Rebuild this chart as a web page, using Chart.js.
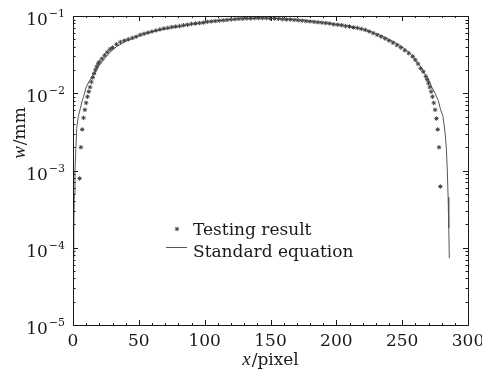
<!DOCTYPE html>
<html lang="en">
<head>
    <meta charset="UTF-8">
    <title>w vs x</title>
    <script src="https://cdn.jsdelivr.net/npm/chart.js"></script>
    <style>
        html, body { margin: 0; padding: 0; background: #fff; }
        #wrap { width: 482px; height: 371px; position: relative; }
    </style>
</head>
<body>
    <div id="wrap"><canvas id="crackChart"></canvas></div>

    <script>
        // Testing result (star markers)
        const testX = [5, 6, 7, 8, 9, 10, 11, 12, 13, 14, 15, 16, 17, 18, 19, 20, 22, 24, 26, 28,
            30, 33, 36, 39, 42, 45, 48, 51, 54, 57, 60, 63, 66, 69, 72, 75, 78, 81, 84, 87,
            90, 93, 96, 99, 102, 105, 108, 111, 114, 117, 120, 123, 126, 129, 132, 135, 138, 141, 144, 147,
            150, 153, 156, 159, 162, 165, 168, 171, 174, 177, 180, 183, 186, 189, 192, 195, 198, 201, 204, 207,
            210, 213, 216, 219, 222, 225, 228, 231, 234, 237, 240, 243, 246, 249, 252, 255, 258, 260, 262, 264,
            266, 268, 269, 270, 271, 272, 273, 274, 275, 276, 277, 278, 279];
        const testW = [7.9e-4, 2.0e-3, 3.4e-3, 4.8e-3, 6.1e-3, 7.5e-3, 9.0e-3, 1.05e-2, 1.2e-2, 1.4e-2, 1.6e-2, 1.8e-2, 2.0e-2, 2.2e-2, 2.4e-2, 2.55e-2, 2.8e-2, 3.1e-2, 3.4e-2, 3.7e-2,
            3.9e-2, 4.3e-2, 4.6e-2, 4.8e-2, 5.0e-2, 5.2e-2, 5.4e-2, 5.7e-2, 5.9e-2, 6.1e-2, 6.3e-2, 6.5e-2, 6.7e-2, 6.9e-2, 7.0e-2, 7.2e-2, 7.3e-2, 7.4e-2, 7.6e-2, 7.7e-2,
            7.9e-2, 8.0e-2, 8.1e-2, 8.2e-2, 8.4e-2, 8.5e-2, 8.6e-2, 8.7e-2, 8.8e-2, 8.9e-2, 9.0e-2, 9.1e-2, 9.2e-2, 9.2e-2, 9.3e-2, 9.3e-2, 9.4e-2, 9.4e-2, 9.4e-2, 9.4e-2,
            9.3e-2, 9.3e-2, 9.2e-2, 9.1e-2, 9.0e-2, 9.0e-2, 8.9e-2, 8.8e-2, 8.7e-2, 8.6e-2, 8.5e-2, 8.4e-2, 8.3e-2, 8.2e-2, 8.1e-2, 8.0e-2, 7.8e-2, 7.7e-2, 7.6e-2, 7.4e-2,
            7.3e-2, 7.1e-2, 7.0e-2, 6.8e-2, 6.6e-2, 6.3e-2, 6.0e-2, 5.7e-2, 5.4e-2, 5.1e-2, 4.8e-2, 4.5e-2, 4.2e-2, 3.9e-2, 3.6e-2, 3.3e-2, 3.0e-2, 2.7e-2, 2.4e-2, 2.1e-2,
            1.9e-2, 1.65e-2, 1.5e-2, 1.35e-2, 1.2e-2, 1.05e-2, 9.0e-3, 7.5e-3, 6.1e-3, 4.7e-3, 3.4e-3, 2.0e-3, 6.2e-4];

        // Standard equation (thin line)
        const stdX = [0.2, 0.6, 1.0, 1.5, 2.2, 2.8, 4, 5.5, 7, 8, 10, 12, 14.5, 17, 20, 24, 28, 33, 40, 50,
            60, 70, 80, 90, 100, 110, 120, 130, 142, 155, 165, 175, 185, 195, 205, 215, 225, 235, 245, 250,
            255, 258, 262, 265, 267, 270, 272.5, 275, 277.5, 279, 281, 282.5, 283.5, 284.2, 284.9, 285.4, 285.8];
        const stdW = [7.3e-5, 1.8e-4, 5e-4, 1e-3, 2e-3, 3.5e-3, 5e-3, 6.3e-3, 8e-3, 9e-3, 1.2e-2, 1.4e-2, 1.65e-2, 1.9e-2, 2.3e-2, 2.8e-2, 3.4e-2, 4.0e-2, 4.7e-2, 5.5e-2,
            6.2e-2, 6.8e-2, 7.3e-2, 7.8e-2, 8.3e-2, 8.7e-2, 9.0e-2, 9.3e-2, 9.4e-2, 9.3e-2, 9.1e-2, 8.8e-2, 8.4e-2, 8.0e-2, 7.6e-2, 7.1e-2, 6.4e-2, 5.5e-2, 4.5e-2, 4.0e-2,
            3.4e-2, 3.0e-2, 2.45e-2, 2.1e-2, 1.8e-2, 1.5e-2, 1.2e-2, 1.0e-2, 8.0e-3, 6.3e-3, 5.0e-3, 3.2e-3, 2.0e-3, 1.1e-3, 4.5e-4, 1.8e-4, 7.3e-5];

        const xMajor = [0, 50, 100, 150, 200, 250, 300];
        const yExponents = [-5, -4, -3, -2, -1];
        const legendLabels = ['Testing result', 'Standard equation'];

        const SERIF = '"DejaVu Serif", "Liberation Serif", serif';
        const ITALIC = 'italic 19px "Liberation Serif", serif';
        const INK = '#1a1a1a';

        // frame, inward ticks, tick labels, axis titles and legend
        const framePlugin = {
            id: 'frame',
            afterDraw(chart) {
                const ctx = chart.ctx;
                const ca = chart.chartArea;
                const xs = chart.scales.x;
                const ys = chart.scales.y;
                ctx.save();
                ctx.strokeStyle = INK;
                ctx.lineWidth = 1;
                ctx.strokeRect(ca.left + 0.5, ca.top + 0.5, ca.right - ca.left, ca.bottom - ca.top);

                const tick = (x1, y1, x2, y2) => {
                    ctx.beginPath();
                    ctx.moveTo(x1, y1);
                    ctx.lineTo(x2, y2);
                    ctx.stroke();
                };

                // x ticks
                for (let v = 0; v <= 300; v += 10) {
                    const px = Math.round(xs.getPixelForValue(v)) + 0.5;
                    const len = v % 50 === 0 ? 5 : 2;
                    tick(px, ca.bottom, px, ca.bottom - len);
                    tick(px, ca.top, px, ca.top + len);
                }
                // y ticks
                yExponents.forEach(e => {
                    for (let m = 1; m <= 9; m++) {
                        if (e === -1 && m > 1) break;
                        const py = Math.round(ys.getPixelForValue(m * Math.pow(10, e))) + 0.5;
                        const len = m === 1 ? 5 : 2.5;
                        tick(ca.left, py, ca.left + len, py);
                        tick(ca.right, py, ca.right - len, py);
                    }
                });

                ctx.fillStyle = INK;
                // x tick labels
                ctx.font = '17px ' + SERIF;
                ctx.textAlign = 'center';
                ctx.textBaseline = 'alphabetic';
                xMajor.forEach(v => {
                    ctx.fillText(String(v), xs.getPixelForValue(v), ca.bottom + 21);
                });
                // y tick labels 10^e
                yExponents.forEach(e => {
                    const py = ys.getPixelForValue(Math.pow(10, e));
                    const sup = '\u2212' + String(-e);
                    ctx.font = '11px ' + SERIF;
                    const supW = ctx.measureText(sup).width;
                    const right = ca.left - 8;
                    ctx.textAlign = 'left';
                    ctx.fillText(sup, right - supW, py + 1);
                    ctx.font = '17px ' + SERIF;
                    ctx.textAlign = 'right';
                    ctx.fillText('10', right - supW - 1, py + 9);
                });

                // x title
                ctx.textAlign = 'left';
                ctx.font = '17px ' + SERIF;
                const rest = '/pixel';
                const restW = ctx.measureText(rest).width;
                ctx.font = ITALIC;
                const xiW = ctx.measureText('x').width + 1;
                const cx = (ca.left + ca.right) / 2 - (xiW + restW) / 2;
                ctx.fillText('x', cx, ca.bottom + 40);
                ctx.font = '17px ' + SERIF;
                ctx.fillText(rest, cx + xiW, ca.bottom + 40);

                // y title
                ctx.save();
                ctx.translate(25, 133);
                ctx.rotate(-Math.PI / 2);
                ctx.font = ITALIC;
                const wiW = ctx.measureText('w').width + 1;
                ctx.font = '17px ' + SERIF;
                const mmW = ctx.measureText('/mm').width;
                ctx.font = ITALIC;
                ctx.fillText('w', -(wiW + mmW) / 2, 0);
                ctx.font = '17px ' + SERIF;
                ctx.fillText('/mm', -(wiW + mmW) / 2 + wiW, 0);
                ctx.restore();

                // legend
                const lx = 193;
                ctx.font = '17px ' + SERIF;
                ctx.textAlign = 'left';
                ctx.fillText(legendLabels[0], lx, 235);
                ctx.fillText(legendLabels[1], lx, 257);
                // star sample
                const sx = 177, sy = 229, r = 2.2;
                ctx.lineWidth = 1;
                ctx.strokeStyle = '#444';
                for (let k = 0; k < 4; k++) {
                    const a = k * Math.PI / 4;
                    tick(sx - r * Math.cos(a), sy - r * Math.sin(a), sx + r * Math.cos(a), sy + r * Math.sin(a));
                }
                // line sample
                ctx.strokeStyle = '#555';
                tick(166, 247.5, 187, 247.5);
                ctx.restore();
            }
        };

        const ctx = document.getElementById('crackChart').getContext('2d');
        new Chart(ctx, {
            type: 'scatter',
            data: {
                datasets: [{
                    label: legendLabels[0],
                    data: testX.map((x, i) => ({ x: x, y: testW[i] })),
                    pointStyle: 'star',
                    pointRadius: 2.2,
                    borderColor: '#444',
                    backgroundColor: '#444',
                    borderWidth: 1,
                    showLine: false
                }, {
                    label: legendLabels[1],
                    data: stdX.map((x, i) => ({ x: x, y: stdW[i] })),
                    showLine: true,
                    pointRadius: 0,
                    borderColor: '#555',
                    borderWidth: 1,
                    tension: 0
                }]
            },
            options: {
                responsive: true,
                maintainAspectRatio: false,
                animation: false,
                layout: { padding: { left: 73, right: 14, top: 16, bottom: 46 } },
                plugins: {
                    legend: { display: false },
                    tooltip: { enabled: false }
                },
                scales: {
                    x: { type: 'linear', min: 0, max: 300, display: false },
                    y: { type: 'logarithmic', min: 1e-5, max: 1e-1, display: false }
                }
            },
            plugins: [framePlugin]
        });
    </script>
</body>
</html>
